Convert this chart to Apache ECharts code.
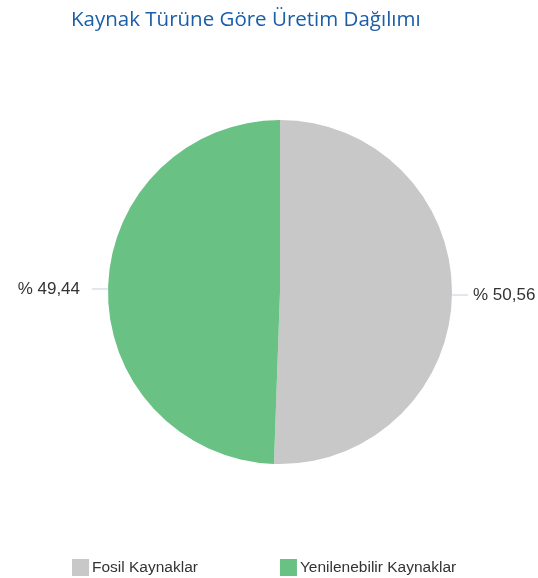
<!DOCTYPE html>
<html><head><meta charset="utf-8">
<script src="https://cdn.jsdelivr.net/npm/echarts@6/dist/echarts.min.js"></script>
<style>html,body{margin:0;padding:0;background:#fff}#c{width:538px;height:578px}</style>
</head><body><div id="c"></div>
<script>
const titleText = 'Kaynak Türüne Göre Üretim Dağılımı';
const categories = ['Fosil Kaynaklar', 'Yenilenebilir Kaynaklar'];
const values = [50.56, 49.44];
const colors = ['#c8c8c8', '#6ac184'];
const labelPads = [[0, 0, 0, 0], [0, 7, 0, 0]];

const chart = echarts.init(document.getElementById('c'));
chart.setOption({
  animation: false,
  title: {
    text: titleText, left: 66, top: 5,
    textStyle: { fontFamily: 'Open Sans', fontSize: 20.5, fontWeight: 'normal', color: '#1a5ea8' }
  },
  legend: {
    bottom: -3, left: 67, itemWidth: 17, itemHeight: 17, itemGap: 82, icon: 'rect',
    textStyle: { fontFamily: 'Liberation Sans', fontSize: 15.5, color: '#333', padding: [0, 0, 0, -2] },
    data: categories
  },
  series: [{
    type: 'pie', center: [280, 292], radius: 172, startAngle: 90, clockwise: true,
    data: categories.map((c, i) => ({ name: c, value: values[i], itemStyle: { color: colors[i] }, label: { padding: labelPads[i] } })),
    label: {
      formatter: p => '% ' + p.value.toFixed(2).replace('.', ','),
      fontFamily: 'Liberation Sans', fontSize: 17, color: '#333', overflow: 'none'
    },
    labelLine: { length: 0, length2: 16, lineStyle: { color: '#c6cfdc', width: 1 } },
    emphasis: { disabled: true }
  }]
});
</script></body></html>
